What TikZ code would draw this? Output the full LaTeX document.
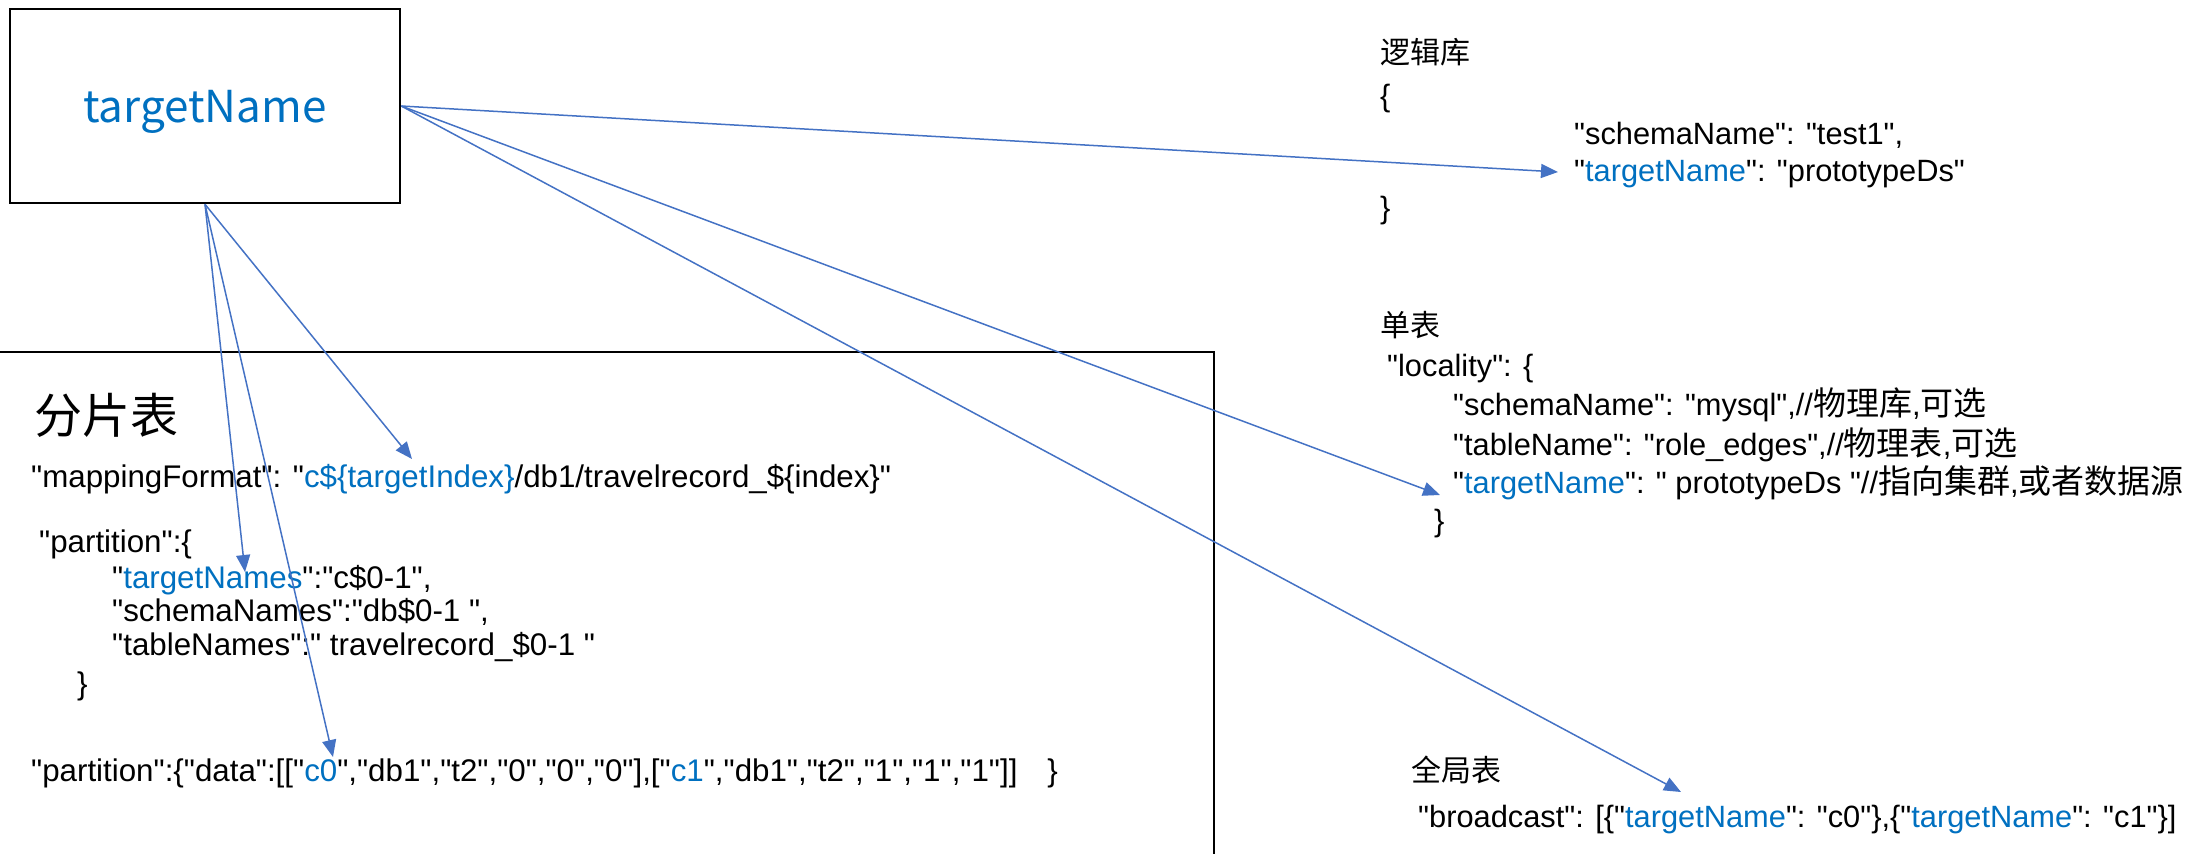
\documentclass[tikz,border=0pt]{standalone}
\usepackage{fontspec}
\setmainfont{Liberation Sans}[Ligatures=TeXOff]
\newfontfamily\cjk{Noto Sans CJK SC}[Ligatures=TeXOff]
\usetikzlibrary{arrows.meta}
\definecolor{txtblue}{HTML}{0070C0}
\definecolor{arrblue}{HTML}{4472C4}
\newcommand{\bl}[1]{\textcolor{txtblue}{#1}}
\newcommand{\zh}[1]{{\cjk\fontsize{33}{38}\selectfont #1}}
\begin{document}
\begin{tikzpicture}[x=1pt,y=-1pt,
  json/.style={anchor=base west, inner sep=0pt, font=\fontsize{30.8}{38}\selectfont},
  ljson/.style={anchor=base west, inner sep=0pt, font=\fontsize{31.3}{38}\selectfont},
  head/.style={anchor=base west, inner sep=0pt, font=\cjk\fontsize{30}{36}\selectfont},
  link/.style={draw=arrblue, line width=1.5pt, -{Triangle[length=17pt,width=14pt,fill=arrblue]}},
  frame/.style={draw=black, line width=2.5pt}]
\useasboundingbox (0,0) rectangle (2190,854);

% source box
\node[frame, minimum width=390pt, minimum height=194pt, inner sep=0pt] (src) at (205,106) {};
\node[anchor=base, inner sep=0pt, font=\cjk\fontsize{44}{50}\selectfont, text=txtblue] (srclabel) at (205,122) {targetName};

% sharded-table frame
\draw[black, line width=2.25pt] (-10,352) -| (1214,870);

% left: sharded table
\node[anchor=base west, inner sep=0pt, font=\cjk\fontsize{48}{54}\selectfont] (shard) at (34,433) {分片表};
\node[ljson] (map) at (31,487) {"mappingFormat": "\bl{c\$\{targetIndex\}}/db1/travelrecord\_\$\{index\}"};
\node[ljson] (part) at (39,552) {"partition":\{};
\node[ljson] (tn) at (112,588) {"\bl{targetNames}":"c\$0-1",};
\node[ljson] (sn) at (112,621) {"schemaNames":"db\$0-1 ",};
\node[ljson] (tbn) at (112,655) {"tableNames":" travelrecord\_\$0-1 "};
\node[ljson] (pclose) at (77,694) {\}};
\node[ljson] (pdata) at (31,781) {"partition":\{"data":[["\bl{c0}","db1","t2","0","0","0"],["\bl{c1}","db1","t2","1","1","1"]]\hspace{30pt}\}};

% right: logical schema
\node[head] (lg) at (1380,63) {逻辑库};
\node[json] (lgopen) at (1380,106) {\{};
\node[json] (lgs) at (1574,144) {"schemaName": "test1",};
\node[json] (lgt) at (1574,181) {"\bl{targetName}": "prototypeDs"};
\node[json] (lgclose) at (1380,218) {\}};

% right: single table
\node[head] (st) at (1380,336) {单表};
\node[json] (loc) at (1387,376) {"locality": \{};
\node[json] (locs) at (1453,415) {"schemaName": "mysql",//\zh{物理库},\zh{可选}};
\node[json] (loct) at (1453,455) {"tableName": "role\_edges",//\zh{物理表},\zh{可选}};
\node[json] (locn) at (1453,493) {"\bl{targetName}": " prototypeDs "//\zh{指向集群},\zh{或者数据源}};
\node[json] (locclose) at (1434,531) {\}};

% right: global table
\node[head] (gt) at (1411,781) {全局表};
\node[json] (bc) at (1418,827) {"broadcast": [\{"\bl{targetName}": "c0"\},\{"\bl{targetName}": "c1"\}]};

% arrow tips
\coordinate (t1) at (1558,172);
\coordinate (t2) at (1440,495);
\coordinate (t3) at (1681,792);
\coordinate (t4) at (412,459);
\coordinate (t5) at (245,572);
\coordinate (t6) at (333,757);

\draw[link] (src.east) -- (t1);
\draw[link] (src.east) -- (t2);
\draw[link] (src.east) -- (t3);
\draw[link] (src.south) -- (t4);
\draw[link] (src.south) -- (t5);
\draw[link] (src.south) -- (t6);
\end{tikzpicture}
\end{document}
